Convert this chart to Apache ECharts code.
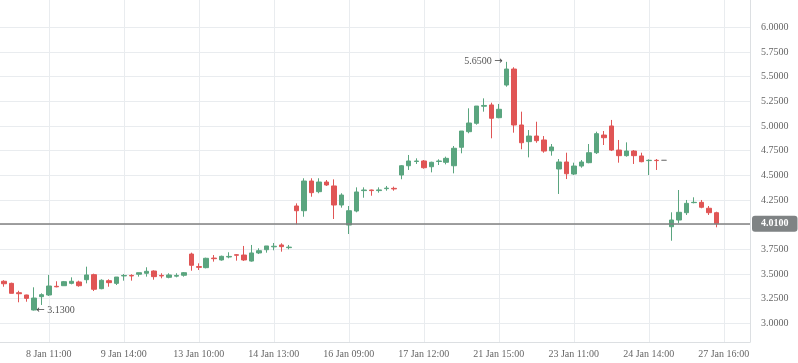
<!DOCTYPE html>
<html><head><meta charset="utf-8">
<script src="https://cdn.jsdelivr.net/npm/echarts@6/dist/echarts.min.js"></script>
<style>html,body{margin:0;padding:0;background:#fff}#c{width:798px;height:363px}</style>
</head><body><div id="c"></div><script>
const tickLabels = ['8 Jan 11:00','9 Jan 14:00','13 Jan 10:00','14 Jan 13:00','16 Jan 09:00','17 Jan 12:00','21 Jan 15:00','23 Jan 11:00','24 Jan 14:00','27 Jan 16:00'];
const opens = [3.426,3.405,3.310,3.287,3.135,3.270,3.287,3.375,3.381,3.405,3.419,3.442,3.493,3.351,3.432,3.405,3.480,3.485,3.497,3.507,
3.530,3.485,3.466,3.478,3.487,3.702,3.575,3.564,3.661,3.642,3.672,3.695,3.692,3.631,3.713,3.746,3.775,3.794,3.767,4.189,
4.141,4.442,4.334,4.432,4.392,4.199,3.996,4.138,4.345,4.351,4.345,4.365,4.368,4.503,4.597,4.640,4.645,4.587,4.640,4.632,
4.597,4.784,4.942,5.027,5.200,5.213,5.084,5.415,5.577,5.010,4.841,4.898,4.858,4.749,4.564,4.635,4.513,4.594,4.628,4.729,
4.908,5.000,4.756,4.699,4.746,4.696,4.649,4.652,4.652,3.979,4.047,4.121,4.223,4.226,4.166,4.121];
const closes = [3.401,3.304,3.300,3.253,3.256,3.290,3.378,3.370,3.422,3.426,3.381,3.490,3.345,3.436,3.412,3.469,3.485,3.480,3.513,3.527,
3.473,3.480,3.490,3.485,3.513,3.588,3.567,3.659,3.655,3.679,3.678,3.690,3.642,3.713,3.736,3.784,3.781,3.777,3.772,4.141,
4.442,4.324,4.432,4.402,4.199,4.300,4.141,4.331,4.351,4.345,4.352,4.370,4.362,4.597,4.645,4.645,4.577,4.632,4.645,4.672,
4.774,4.949,5.030,5.202,5.208,5.078,5.169,5.577,5.010,4.830,4.898,4.851,4.746,4.787,4.635,4.516,4.594,4.635,4.729,4.922,
4.881,4.756,4.699,4.746,4.699,4.638,4.652,4.649,4.652,4.047,4.125,4.216,4.226,4.176,4.121,4.010];
const lows = [3.371,3.304,3.213,3.219,3.130,3.186,3.277,3.365,3.381,3.395,3.371,3.405,3.327,3.345,3.371,3.388,3.432,3.432,3.473,3.473,
3.442,3.456,3.456,3.466,3.473,3.533,3.540,3.557,3.625,3.635,3.659,3.635,3.632,3.625,3.702,3.716,3.740,3.726,3.750,4.003,
4.080,4.283,4.318,4.392,4.057,4.172,3.905,4.125,4.273,4.293,4.324,4.344,4.344,4.460,4.554,4.615,4.567,4.530,4.604,4.611,
4.520,4.723,4.926,5.013,5.145,4.875,5.078,5.398,4.932,4.764,4.682,4.830,4.729,4.699,4.311,4.462,4.503,4.577,4.622,4.716,
4.807,4.746,4.628,4.689,4.615,4.632,4.503,4.554,4.652,3.837,4.014,4.098,4.216,4.166,4.098,3.973];
const highs = [3.437,3.412,3.330,3.290,3.365,3.304,3.490,3.426,3.429,3.466,3.432,3.574,3.503,3.446,3.446,3.469,3.500,3.497,3.513,3.568,
3.537,3.507,3.507,3.507,3.520,3.716,3.608,3.665,3.692,3.686,3.720,3.702,3.784,3.794,3.760,3.784,3.814,3.811,3.794,4.216,
4.470,4.470,4.470,4.452,4.459,4.318,4.189,4.378,4.378,4.355,4.378,4.392,4.385,4.604,4.706,4.672,4.655,4.638,4.662,4.689,
4.797,4.949,5.179,5.202,5.280,5.236,5.223,5.650,5.595,5.145,4.959,5.043,4.898,4.817,4.665,4.729,4.628,4.655,4.817,4.942,
4.949,5.061,4.858,4.834,4.756,4.729,4.662,4.665,4.652,4.125,4.351,4.250,4.277,4.250,4.189,4.131];
const yTicks = [3.00,3.25,3.50,3.75,4.00,4.25,4.50,4.75,5.00,5.25,5.50,5.75,6.00];
const yMin = 2.8106, yMax = 6.2767;
const lastPrice = 4.01;
const categoryCount = 100, firstLabelIndex = 6, labelStep = 10;

const categories = [];
for (let i = 0; i < categoryCount; i++) {
  const k = i - firstLabelIndex;
  categories.push(k >= 0 && k % labelStep === 0 ? tickLabels[k / labelStep] : 'bar ' + i);
}
const candles = opens.map((o, i) => [o, closes[i], lows[i], highs[i]]);
const isLabelIdx = (idx) => idx >= firstLabelIndex && (idx - firstLabelIndex) % labelStep === 0;

const FONT = 'Liberation Serif';
const GREEN = '#5aa57f', RED = '#e05555';
const arrowRich = {t: {color: '#555', fontFamily: FONT, fontSize: 10}, a: {color: '#444', fontFamily: 'DejaVu Sans', fontSize: 10}};
const chart = echarts.init(document.getElementById('c'), null, {renderer: 'canvas'});
chart.setOption({
  animation: false,
  backgroundColor: '#fff',
  grid: {left: 0, right: 48, top: 0, bottom: 21, containLabel: false},
  xAxis: {
    type: 'category', data: categories, boundaryGap: true,
    axisLine: {show: true, lineStyle: {color: '#dcdfe2'}},
    axisTick: {show: false, alignWithLabel: true, interval: isLabelIdx},
    axisLabel: {interval: isLabelIdx, color: '#666', fontFamily: FONT, fontSize: 10, margin: 7},
    splitLine: {show: true, alignWithLabel: true, interval: isLabelIdx, lineStyle: {color: '#e9ecef'}}
  },
  yAxis: {
    type: 'value', position: 'right', min: yMin, max: yMax, scale: true,
    axisLine: {show: true, lineStyle: {color: '#dcdfe2'}},
    axisTick: {show: false, customValues: yTicks},
    axisLabel: {customValues: yTicks, color: '#666', fontFamily: FONT, fontSize: 10, margin: 11,
      formatter: (v) => v.toFixed(4)},
    splitLine: {show: true, lineStyle: {color: '#e9ecef'}}
  },
  series: [{
    type: 'candlestick', data: candles, barWidth: 5,
    itemStyle: {color: GREEN, color0: RED, borderColor: GREEN, borderColor0: RED, borderColorDoji: '#888', borderWidth: 1},
    markPoint: {
      symbol: 'circle', symbolSize: 1, itemStyle: {color: 'rgba(0,0,0,0)'},
      data: [
        {type: 'max', valueDim: 'highest', label: {show: true, position: 'left', distance: 3, rich: arrowRich,
          formatter: (p) => '{t|' + p.value.toFixed(4) + ' }{a|\u2192}'}},
        {type: 'min', valueDim: 'lowest', label: {show: true, position: 'right', distance: 2, rich: arrowRich,
          formatter: (p) => '{a|\u2190}{t| ' + p.value.toFixed(4) + '}'}}
      ]
    },
    markLine: {
      symbol: ['none', 'none'], silent: true,
      lineStyle: {color: '#808080', width: 1.5, type: 'solid'},
      label: {show: true, position: 'end', distance: 2, formatter: lastPrice.toFixed(4), color: '#fff', backgroundColor: '#7f8384',
        padding: [3, 9, 3, 9], borderRadius: 3, fontFamily: FONT, fontSize: 10, fontWeight: 'bold'},
      data: [{yAxis: lastPrice}]
    }
  }]
});
</script></body></html>
